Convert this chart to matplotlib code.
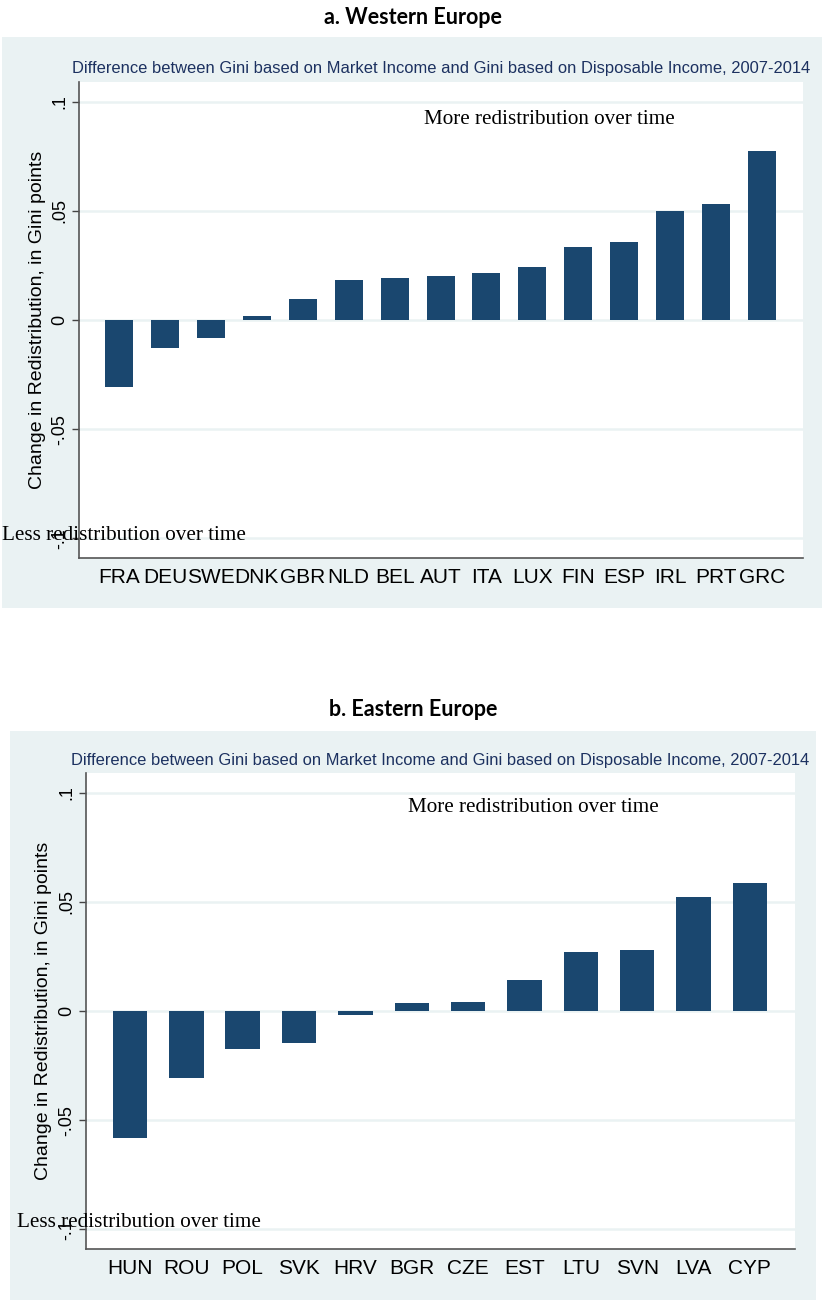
import matplotlib.pyplot as plt
from matplotlib.patches import Rectangle

# Change in redistribution (Gini market - Gini disposable), 2007-2014
west_countries = ["FRA", "DEU", "SWE", "DNK", "GBR", "NLD", "BEL", "AUT",
                  "ITA", "LUX", "FIN", "ESP", "IRL", "PRT", "GRC"]
west_values = [-0.0309, -0.0126, -0.0081, 0.0017, 0.0096, 0.0184, 0.0193, 0.0200,
               0.0215, 0.0245, 0.0333, 0.0355, 0.0497, 0.0530, 0.0773]

east_countries = ["HUN", "ROU", "POL", "SVK", "HRV", "BGR", "CZE", "EST",
                  "LTU", "SVN", "LVA", "CYP"]
east_values = [-0.0583, -0.0307, -0.0176, -0.0147, -0.0018, 0.0035, 0.0040, 0.0141,
               0.0269, 0.0278, 0.0522, 0.0586]

yticks = [0.1, 0.05, 0, -0.05, -0.1]
ytick_labels = [".1", ".05", "0", "-.05", "-.1"]

subtitle = ("Difference between Gini based on Market Income and Gini based on "
            "Disposable Income, 2007-2014")
ylabel = "Change in Redistribution, in Gini points"

NAVY = "#1a476f"
REGION = "#eaf2f3"
W, H = 822, 1304

plt.rcParams["font.family"] = ["Liberation Sans", "DejaVu Sans"]
fig = plt.figure(figsize=(W / 100, H / 100), dpi=100)


def px_rect(x0, y0, x1, y1):
    # pixel box (top-left origin) -> figure fraction rect
    return [x0 / W, 1 - y1 / H, (x1 - x0) / W, (y1 - y0) / H]


def panel(title, title_y, box, ax_box, sub_xy, countries, values,
          more_xy, less_xy, xlim, ylab_x):
    bx = px_rect(*box)
    fig.patches.append(Rectangle((bx[0], bx[1]), bx[2], bx[3],
                                 transform=fig.transFigure, facecolor=REGION,
                                 edgecolor="none", zorder=-10))
    fig.text(413 / W, 1 - title_y / H, title, ha="center", va="center",
             fontsize=15.5, fontweight="bold", family=["Lato", "DejaVu Sans"])
    fig.text(sub_xy[0] / W, 1 - sub_xy[1] / H, subtitle, ha="center", va="center",
             fontsize=11.9, color="#1c3160")

    ax = fig.add_axes(px_rect(*ax_box))
    ax.set_zorder(1)
    ax.set_facecolor("white")
    x = list(range(len(countries)))
    ax.bar(x, values, width=0.61, color=NAVY, zorder=3)
    ax.set_xlim(*xlim)
    ax.set_ylim(-0.109, 0.109)

    ax.set_yticks(yticks)
    ax.set_yticklabels(ytick_labels, rotation=90, va="center", fontsize=13)
    ax.tick_params(axis="y", length=5, width=1, color="#444444", pad=3)
    ax.set_xticks(x)
    ax.set_xticklabels(countries, fontsize=15)
    ax.tick_params(axis="x", length=0, pad=7)
    ax.yaxis.grid(True, color=REGION, linewidth=1.8, zorder=1)
    ax.set_axisbelow(True)

    for side in ("top", "right"):
        ax.spines[side].set_visible(False)
    for side in ("left", "bottom"):
        ax.spines[side].set_color("#555555")
        ax.spines[side].set_linewidth(1.2)

    fig.text(ylab_x / W, 1 - (ax_box[1] + ax_box[3]) / 2 / H, ylabel,
             rotation=90, ha="center", va="center", fontsize=14)

    ax.text(more_xy[0], more_xy[1], "More redistribution over time",
            family=["Liberation Serif"], fontsize=15.2, ha="left", va="center")
    ax.text(less_xy[0], less_xy[1], "Less redistribution over time",
            family=["Liberation Serif"], fontsize=15.2, ha="left", va="center",
            clip_on=False, zorder=5)
    return ax


panel("a. Western Europe", 17, (2, 37, 822, 608), (79, 82, 803, 558), (441, 69),
      west_countries, west_values, (6.64, 0.0918), (-2.55, -0.0986),
      (-0.87, 14.89), 37)

panel("b. Eastern Europe", 710, (10, 731, 816, 1300), (86, 773, 795, 1249), (440, 761),
      east_countries, east_values, (4.93, 0.093), (-2.01, -0.097),
      (-0.78, 11.8), 44)

fig.savefig("out.png", dpi=100)
